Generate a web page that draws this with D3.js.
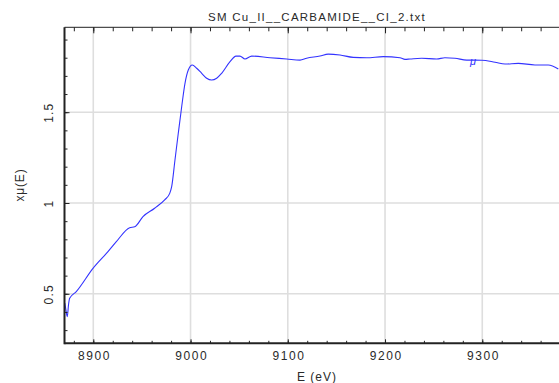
<!DOCTYPE html>
<html>
<head>
<meta charset="utf-8">
<script src="https://cdn.jsdelivr.net/npm/d3@7"></script>
<style>
  html, body { margin: 0; padding: 0; background: #fff; }
  svg { display: block; }
  text { font-family: "Liberation Sans", Arial, sans-serif; fill: #2a2a2a; }
</style>
</head>
<body>
<svg id="chart" width="559" height="383"></svg>
<script>
// Normalised absorption spectrum, Cu K-edge
const energy = [8870.7, 8871.4, 8873.3, 8874.5, 8875.7, 8882.5, 8899.7, 8915.1, 8923.7, 8937.4,
  8942.6, 8951.1, 8963.1, 8973.4, 8978.6, 8980.6, 8984.0, 8987.4, 8990.9, 8994.3,
  8997.7, 9001.8, 9006.3, 9011.5, 9016.6, 9021.7, 9026.9, 9032.0, 9040.6, 9046.7,
  9050.8, 9056.0, 9062.9, 9081.7, 9098.9, 9112.6, 9119.4, 9133.1, 9141.6, 9153.7,
  9167.4, 9181.1, 9198.2, 9215.4, 9220.5, 9225.7, 9237.7, 9253.1, 9261.6, 9271.9,
  9284.0, 9299.4, 9313.1, 9323.4, 9337.0, 9354.2, 9367.9, 9378.2];
const mu = [0.449, 0.427, 0.374, 0.438, 0.475, 0.512, 0.640, 0.732, 0.787, 0.864,
  0.869, 0.925, 0.971, 1.017, 1.053, 1.090, 1.237, 1.384, 1.530, 1.659,
  1.732, 1.760, 1.742, 1.714, 1.687, 1.677, 1.687, 1.714, 1.778, 1.809,
  1.809, 1.793, 1.809, 1.800, 1.793, 1.787, 1.797, 1.809, 1.820, 1.815,
  1.802, 1.800, 1.806, 1.800, 1.791, 1.793, 1.797, 1.793, 1.800, 1.797,
  1.787, 1.786, 1.775, 1.765, 1.769, 1.760, 1.760, 1.738];

const xMajorTicks = [8900, 9000, 9100, 9200, 9300];
const xMinorTicks = d3.range(8880, 9380, 20);
const yMajorTicks = [0.5, 1, 1.5];
const yMinorTicks = d3.range(3, 20).map(d => d / 10);

const title = "SM Cu_II__CARBAMIDE__CI_2.txt";
const xLabel = "E (eV)";
const yLabel = "xμ(E)";
const seriesLabel = "μ";

const svg = d3.select("#chart");
const plot = { left: 64.5, top: 27.3, right: 559, bottom: 343.3 };

const x = d3.scaleLinear().domain([8870.4, 9378.9]).range([plot.left, plot.right]);
const y = d3.scaleLinear().domain([0.2274, 1.9675]).range([plot.bottom, plot.top]);

// grid
const grid = svg.append("g").attr("stroke", "#dedede").attr("stroke-width", 1.6);
grid.selectAll(".gx").data(xMajorTicks).join("line")
  .attr("x1", d => x(d)).attr("x2", d => x(d))
  .attr("y1", plot.top).attr("y2", plot.bottom);
grid.selectAll(".gy").data(yMajorTicks).join("line")
  .attr("x1", plot.left).attr("x2", plot.right)
  .attr("y1", d => y(d)).attr("y2", d => y(d));

// curve
svg.append("clipPath").attr("id", "clip").append("rect")
  .attr("x", plot.left).attr("y", plot.top)
  .attr("width", plot.right - plot.left).attr("height", plot.bottom - plot.top);
svg.append("path")
  .datum(energy.map((e, i) => [e, mu[i]]))
  .attr("clip-path", "url(#clip)")
  .attr("fill", "none")
  .attr("stroke", "#3333ff")
  .attr("stroke-width", 1.1)
  .attr("stroke-linejoin", "round")
  .attr("d", d3.line().x(d => x(d[0])).y(d => y(d[1])).curve(d3.curveMonotoneX));

// series label
svg.append("text")
  .attr("x", x(9290.4)).attr("y", y(1.76))
  .attr("text-anchor", "middle")
  .style("font-size", "11px").style("font-style", "italic")
  .style("fill", "#3333ff")
  .text(seriesLabel);

// axes (ticks drawn inward)
const axisColor = "#222";
const axBottom = svg.append("g").attr("transform", `translate(0,${plot.bottom})`)
  .call(d3.axisBottom(x).tickValues(xMajorTicks).tickSize(-4).tickPadding(8).tickFormat(d3.format("d")));
axBottom.select(".domain").remove();
axBottom.selectAll("text").style("font-size", "12px").style("letter-spacing", "1.6px")
  .attr("fill", "#2a2a2a").attr("font-family", null).attr("dx", "0.8px");
svg.append("g").attr("transform", `translate(0,${plot.bottom})`)
  .call(d3.axisBottom(x).tickValues(xMinorTicks).tickSize(-2.5).tickFormat(""))
  .select(".domain").remove();

const axTop = svg.append("g").attr("transform", `translate(0,${plot.top})`)
  .call(d3.axisTop(x).tickValues(xMajorTicks).tickSize(-6).tickFormat(""));
axTop.select(".domain").remove();
svg.append("g").attr("transform", `translate(0,${plot.top})`)
  .call(d3.axisTop(x).tickValues(xMinorTicks).tickSize(-4).tickFormat(""))
  .select(".domain").remove();

const axLeft = svg.append("g").attr("transform", `translate(${plot.left},0)`)
  .call(d3.axisLeft(y).tickValues(yMajorTicks).tickSize(-5).tickFormat(d3.format("")));
axLeft.select(".domain").remove();
axLeft.selectAll("text")
  .style("font-size", "12px").style("letter-spacing", "1.2px").attr("fill", "#2a2a2a").attr("font-family", null)
  .attr("text-anchor", "middle")
  .attr("x", 0).attr("y", 0).attr("dy", "0.35em")
  .attr("transform", "translate(-15.5,0) rotate(-90)");
svg.append("g").attr("transform", `translate(${plot.left},0)`)
  .call(d3.axisLeft(y).tickValues(yMinorTicks).tickSize(-3).tickFormat(""))
  .select(".domain").remove();

svg.selectAll(".tick line").attr("stroke", axisColor);

// frame lines
svg.append("line").attr("x1", plot.left).attr("x2", plot.right).attr("y1", plot.top).attr("y2", plot.top)
  .attr("stroke", axisColor).attr("stroke-width", 1);
svg.append("line").attr("x1", plot.left).attr("x2", plot.right).attr("y1", plot.bottom).attr("y2", plot.bottom)
  .attr("stroke", axisColor).attr("stroke-width", 2);
svg.append("line").attr("x1", plot.left).attr("x2", plot.left).attr("y1", plot.top).attr("y2", plot.bottom + 1)
  .attr("stroke", axisColor).attr("stroke-width", 2);

// titles
svg.append("text").attr("x", 317).attr("y", 20.7).attr("text-anchor", "middle")
  .style("font-size", "11.5px").style("letter-spacing", "1.25px").text(title);
svg.append("text").attr("x", 317).attr("y", 381).attr("text-anchor", "middle")
  .style("font-size", "12px").style("letter-spacing", "1px").text(xLabel);
svg.append("text").attr("transform", "translate(24,185) rotate(-90)").attr("text-anchor", "middle")
  .style("font-size", "12px").style("letter-spacing", "0.8px").text(yLabel);
</script>
</body>
</html>
